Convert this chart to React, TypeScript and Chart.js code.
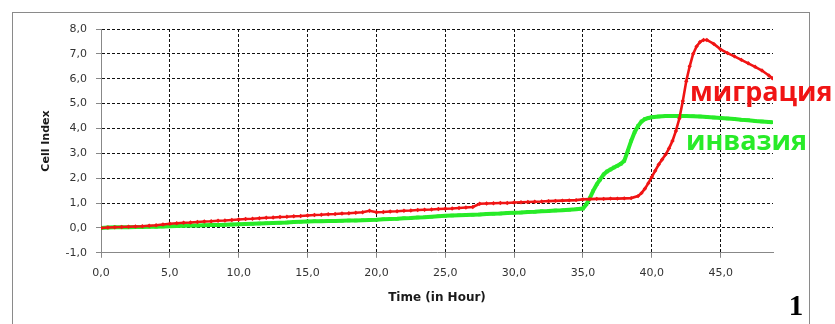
import React, { useEffect, useRef } from 'react';
import { Chart, registerables } from 'chart.js';

Chart.register(...registerables);

// ---- data ----
const migrationTime = [
  0, 0.5, 1, 1.5, 2, 2.5, 3, 3.5, 4, 4.5, 5, 5.5, 6, 6.5, 7, 7.5, 8, 8.5, 9, 9.5,
  10, 10.5, 11, 11.5, 12, 12.5, 13, 13.5, 14, 14.5, 15, 15.5, 16, 16.5, 17, 17.5, 18, 18.5, 19, 19.5,
  20, 20.5, 21, 21.5, 22, 22.5, 23, 23.5, 24, 24.5, 25, 25.5, 26, 26.5, 27, 27.5, 28, 28.5, 29, 29.5,
  30, 30.5, 31, 31.5, 32, 32.5, 33, 33.5, 34, 34.5, 35, 35.5, 36, 36.5, 37, 37.5, 38, 38.5, 39, 39.25,
  39.5, 39.75, 40, 40.25, 40.5, 40.75, 41, 41.25, 41.5, 41.75, 42, 42.25, 42.5, 42.75, 43, 43.25, 43.5, 43.75,
  44, 44.5, 45, 45.5, 46, 46.5, 47, 47.5, 48, 48.5, 48.75,
];
const migrationIndex = [
  0, 0.02, 0.03, 0.04, 0.05, 0.06, 0.07, 0.09, 0.11, 0.14, 0.17, 0.19, 0.21, 0.22, 0.24, 0.26, 0.27, 0.29, 0.3, 0.32,
  0.34, 0.36, 0.37, 0.39, 0.41, 0.42, 0.44, 0.45, 0.47, 0.48, 0.5, 0.52, 0.53, 0.55, 0.56, 0.58, 0.59, 0.61, 0.63, 0.69,
  0.63, 0.64, 0.66, 0.67, 0.69, 0.7, 0.72, 0.73, 0.74, 0.76, 0.77, 0.78, 0.8, 0.82, 0.84, 0.97, 0.98, 0.99, 1.0, 1.0,
  1.02, 1.03, 1.04, 1.05, 1.06, 1.08, 1.09, 1.1, 1.11, 1.12, 1.15, 1.16, 1.17, 1.17, 1.18, 1.18, 1.19, 1.2, 1.28, 1.4,
  1.58, 1.8, 2.05, 2.3, 2.55, 2.75, 2.95, 3.2, 3.5, 3.9, 4.4, 5.1, 5.9, 6.5, 7.0, 7.3, 7.48, 7.56,
  7.56, 7.4, 7.18, 7.03, 6.9, 6.76, 6.62, 6.48, 6.33, 6.13, 6.02,
];
const invasionTime = [
  0, 0.5, 1, 1.5, 2, 2.5, 3, 3.5, 4, 4.5, 5, 5.5, 6, 6.5, 7, 7.5, 8, 8.5, 9, 9.5,
  10, 10.5, 11, 11.5, 12, 12.5, 13, 13.5, 14, 14.5, 15, 15.5, 16, 16.5, 17, 17.5, 18, 18.5, 19, 19.5,
  20, 20.5, 21, 21.5, 22, 22.5, 23, 23.5, 24, 24.5, 25, 25.5, 26, 26.5, 27, 27.5, 28, 28.5, 29, 29.5,
  30, 30.5, 31, 31.5, 32, 32.5, 33, 33.5, 34, 34.5, 35, 35.25, 35.5, 35.75, 36, 36.25, 36.5, 36.75, 37, 37.25,
  37.5, 37.75, 38, 38.25, 38.5, 38.75, 39, 39.25, 39.5, 39.75, 40, 40.5, 41, 41.5, 42, 42.5, 43, 43.5,
  44, 44.5, 45, 45.5, 46, 46.5, 47, 47.5, 48, 48.5, 48.75,
];
const invasionIndex = [
  0, 0.02, 0.03, 0.03, 0.03, 0.04, 0.04, 0.05, 0.05, 0.06, 0.07, 0.08, 0.09, 0.1, 0.1, 0.11, 0.12, 0.12, 0.13, 0.14,
  0.15, 0.16, 0.17, 0.18, 0.19, 0.2, 0.21, 0.22, 0.24, 0.25, 0.26, 0.27, 0.27, 0.28, 0.28, 0.29, 0.3, 0.3, 0.31, 0.32,
  0.33, 0.35, 0.36, 0.37, 0.39, 0.4, 0.42, 0.43, 0.45, 0.47, 0.49, 0.5, 0.51, 0.52, 0.53, 0.54, 0.56, 0.57, 0.58, 0.6,
  0.61, 0.62, 0.64, 0.65, 0.67, 0.68, 0.7, 0.71, 0.73, 0.75, 0.78, 0.95, 1.2, 1.5, 1.75, 1.95, 2.15, 2.27, 2.35, 2.43,
  2.5, 2.58, 2.7, 3.1, 3.5, 3.85, 4.1, 4.28, 4.38, 4.42, 4.45, 4.48, 4.5, 4.5, 4.5, 4.5, 4.49, 4.48,
  4.46, 4.44, 4.42, 4.4, 4.38, 4.35, 4.33, 4.3, 4.28, 4.26, 4.25,
];
const xTickValues = [0, 5, 10, 15, 20, 25, 30, 35, 40, 45];
const yTickValues = [-1, 0, 1, 2, 3, 4, 5, 6, 7, 8];
const seriesLabels = ['миграция', 'инвазия'];
const xTitle = 'Time (in Hour)';
const yTitle = 'Cell Index';
const panelLabel = '1';

const RED = 'rgb(240,20,20)';
const GREEN = 'rgb(40,235,40)';

const fmt = (v: number) => v.toFixed(1).replace('.', ',');

const textPlugin = {
  id: 'texts',
  beforeDraw(chart: any) {
    const ctx = chart.ctx;
    ctx.save();
    ctx.fillStyle = '#ffffff';
    ctx.fillRect(0, 0, chart.width, chart.height);
    ctx.strokeStyle = '#8a8a8a';
    ctx.lineWidth = 1;
    ctx.strokeRect(12.5, 12.5, 797, 340);
    ctx.restore();
  },
  afterDraw(chart: any) {
    const ctx = chart.ctx;
    ctx.save();
    ctx.fillStyle = '#1a1a1a';
    ctx.textAlign = 'center';
    ctx.textBaseline = 'middle';
    ctx.font = 'bold 12px "DejaVu Sans", sans-serif';
    ctx.fillText(xTitle, 437, 298);
    ctx.font = 'bold 11px "DejaVu Sans", sans-serif';
    ctx.save();
    ctx.translate(46, 141);
    ctx.rotate(-Math.PI / 2);
    ctx.fillText(yTitle, 0, 0);
    ctx.restore();

    ctx.textAlign = 'left';
    ctx.textBaseline = 'alphabetic';
    ctx.font = 'bold 27px "Open Sans", sans-serif';
    ctx.fillStyle = RED;
    ctx.fillText(seriesLabels[0], 690, 101);
    ctx.fillStyle = GREEN;
    ctx.fillText(seriesLabels[1], 686, 150);

    ctx.fillStyle = '#000';
    ctx.textAlign = 'center';
    ctx.font = 'bold 29px "Liberation Serif", serif';
    ctx.fillText(panelLabel, 796, 315);
    ctx.restore();
  },
};

export default function App() {
  const ref = useRef<HTMLCanvasElement | null>(null);
  useEffect(() => {
    if (!ref.current) return;
    const chart = new Chart(ref.current, {
      type: 'line',
      data: {
        datasets: [
          {
            label: seriesLabels[0],
            data: migrationTime.map((t, i) => ({ x: t, y: migrationIndex[i] })),
            borderColor: RED,
            backgroundColor: RED,
            borderWidth: 2.6,
            pointRadius: 2.2,
            pointStyle: 'rectRot',
            pointBorderWidth: 0,
            tension: 0,
          },
          {
            label: seriesLabels[1],
            data: invasionTime.map((t, i) => ({ x: t, y: invasionIndex[i] })),
            borderColor: GREEN,
            backgroundColor: GREEN,
            borderWidth: 4,
            pointRadius: 2.4,
            pointStyle: 'rect',
            pointBorderWidth: 0,
            tension: 0,
          },
        ],
      },
      options: {
        responsive: false,
        animation: false,
        events: [],
        layout: { padding: { left: 0, top: 29, right: 62, bottom: 35 } },
        plugins: { legend: { display: false }, tooltip: { enabled: false } },
        scales: {
          x: {
            type: 'linear',
            min: 0,
            max: 48.8,
            afterBuildTicks: (s: any) => { s.ticks = xTickValues.map((v) => ({ value: v })); },
            ticks: {
              callback: (v: any) => fmt(Number(v)),
              color: '#333',
              font: { family: '"DejaVu Sans", sans-serif', size: 11 },
              padding: 9,
              maxRotation: 0,
              autoSkip: false,
            },
            grid: {
              color: (c: any) => (c.tick && c.tick.value === 0 ? 'rgba(0,0,0,0)' : '#111'),
              lineWidth: 1,
              tickLength: 5,
              tickColor: '#888',
              drawTicks: true,
              borderDash: [3, 2],
            } as any,
            border: { display: true, color: '#888', width: 1, dash: [3, 2] },
          },
          y: {
            type: 'linear',
            min: -1,
            max: 8,
            afterFit: (s: any) => { s.width = 101; },
            afterBuildTicks: (s: any) => { s.ticks = yTickValues.map((v) => ({ value: v })); },
            ticks: {
              callback: (v: any) => fmt(Number(v)),
              color: '#333',
              font: { family: '"DejaVu Sans", sans-serif', size: 11 },
              padding: 9,
              autoSkip: false,
            },
            grid: {
              color: (c: any) => (c.tick && c.tick.value === -1 ? 'rgba(0,0,0,0)' : '#111'),
              lineWidth: 1,
              tickLength: 5,
              tickColor: '#888',
              drawTicks: true,
              borderDash: [3, 2],
            } as any,
            border: { display: true, color: '#888', width: 1, dash: [3, 2] },
          },
        },
      },
      plugins: [textPlugin],
    });
    return () => chart.destroy();
  }, []);
  return (
    <div style={{ position: 'fixed', left: 0, top: 0, width: 835, height: 324, background: '#fff' }}>
      <canvas ref={ref} width={835} height={324} style={{ display: 'block' }} />
    </div>
  );
}
